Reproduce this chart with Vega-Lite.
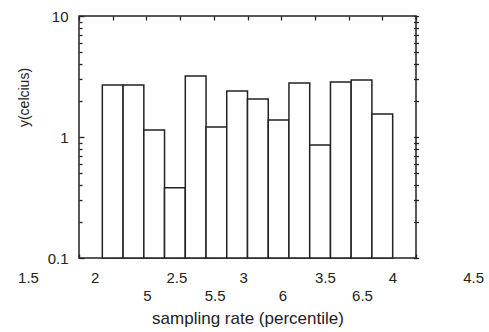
{
  "$schema": "https://vega.github.io/schema/vega-lite/v6.json",
  "width": 337,
  "height": 242,
  "autosize": "none",
  "padding": {"left": 79, "top": 16, "right": 73, "bottom": 74},
  "background": "white",
  "config": {
    "view": {"stroke": "#222", "strokeWidth": 1.5},
    "axis": {
      "labelFont": "Liberation Sans",
      "titleFont": "Liberation Sans",
      "labelColor": "#222",
      "titleColor": "#222",
      "titleFontWeight": "normal",
      "domain": false,
      "grid": false,
      "tickColor": "#222",
      "tickWidth": 1.3
    }
  },
  "data": {
    "values": [
      {"start": 1.846, "end": 2.154, "temp": 2.69},
      {"start": 2.154, "end": 2.462, "temp": 2.69},
      {"start": 2.462, "end": 2.769, "temp": 1.14},
      {"start": 2.769, "end": 3.077, "temp": 0.38},
      {"start": 3.077, "end": 3.385, "temp": 3.19},
      {"start": 3.385, "end": 3.692, "temp": 1.21},
      {"start": 3.692, "end": 4.0, "temp": 2.4},
      {"start": 4.0, "end": 4.308, "temp": 2.06},
      {"start": 4.308, "end": 4.615, "temp": 1.38},
      {"start": 4.615, "end": 4.923, "temp": 2.79},
      {"start": 4.923, "end": 5.231, "temp": 0.86},
      {"start": 5.231, "end": 5.538, "temp": 2.85},
      {"start": 5.538, "end": 5.846, "temp": 2.96},
      {"start": 5.846, "end": 6.154, "temp": 1.55}
    ]
  },
  "layer": [
    {
      "mark": {"type": "bar", "fill": "white", "stroke": "#222", "strokeWidth": 1.5},
      "encoding": {
        "x": {
          "field": "start",
          "type": "quantitative",
          "scale": {"domain": [1.5, 6.5], "nice": false, "zero": false},
          "axis": {
            "orient": "bottom",
            "title": "sampling rate (percentile)",
            "titleFontSize": 17,
            "titleBaseline": "middle",
            "titleY": 60,
            "values": [1.5, 2, 2.5, 3, 3.5, 4, 4.5, 5, 5.5, 6, 6.5],
            "format": "~g",
            "tickSize": -4,
            "labelFontSize": 15,
            "labelBaseline": "alphabetic",
            "labelFlush": false,
            "labelOverlap": false,
            "labelBound": false,
            "labelPadding": {"condition": {"test": "datum.value >= 5", "value": 46}, "value": 28},
            "labelOffset": {
              "condition": [
                {"test": "datum.value == 1.5", "value": -51},
                {"test": "datum.value == 2", "value": -18},
                {"test": "datum.value == 2.5", "value": 30},
                {"test": "datum.value == 3", "value": 63},
                {"test": "datum.value == 3.5", "value": 111},
                {"test": "datum.value == 4", "value": 145},
                {"test": "datum.value == 4.5", "value": 192},
                {"test": "datum.value == 5", "value": -168},
                {"test": "datum.value == 5.5", "value": -134},
                {"test": "datum.value == 6", "value": -100},
                {"test": "datum.value == 6.5", "value": -54}
              ],
              "value": 0
            }
          }
        },
        "x2": {"field": "end"},
        "y": {
          "field": "temp",
          "type": "quantitative",
          "scale": {"type": "log", "domain": [0.1, 10], "nice": false},
          "axis": {
            "orient": "left",
            "title": "y(celcius)",
            "titleFontSize": 14,
            "titleAlign": "center",
            "titleBaseline": "middle",
            "titleX": -55,
            "titleY": 81,
            "values": [0.1, 0.2, 0.3, 0.4, 0.5, 0.6, 0.7, 0.8, 0.9, 1, 2, 3, 4, 5, 6, 7, 8, 9, 10],
            "labelExpr": "datum.value == 0.1 ? '0.1' : datum.value == 1 ? '1' : datum.value == 10 ? '10' : ''",
            "labelFontSize": 15,
            "labelBaseline": "middle",
            "labelOverlap": false,
            "labelFlush": false,
            "labelBound": false,
            "labelPadding": 16,
            "tickSize": {"condition": {"test": "datum.value == 0.1 || datum.value == 1 || datum.value == 10", "value": -5}, "value": -3}
          }
        },
        "y2": {"datum": 0.1}
      }
    },
    {
      "mark": {"type": "point", "opacity": 0},
      "encoding": {
        "x": {
          "field": "start",
          "type": "quantitative",
          "axis": {
            "orient": "top",
            "title": null,
            "labels": false,
            "values": [1.5, 2, 2.5, 3, 3.5, 4, 4.5, 5, 5.5, 6, 6.5],
            "tickSize": -4
          }
        },
        "y": {
          "field": "temp",
          "type": "quantitative",
          "axis": {
            "orient": "right",
            "title": null,
            "labels": false,
            "offset": -2.5,
            "values": [0.1, 0.2, 0.3, 0.4, 0.5, 0.6, 0.7, 0.8, 0.9, 1, 2, 3, 4, 5, 6, 7, 8, 9, 10],
            "tickSize": 5
          }
        }
      }
    }
  ],
  "resolve": {"axis": {"x": "independent", "y": "independent"}}
}
